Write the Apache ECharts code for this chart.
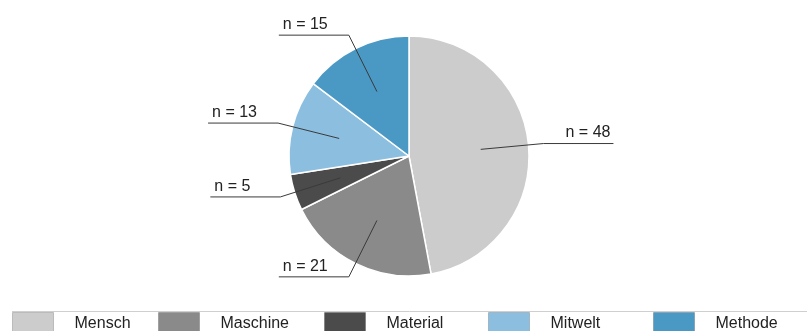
<!DOCTYPE html>
<html>
<head>
<meta charset="utf-8">
<script src="https://cdn.jsdelivr.net/npm/echarts@6/dist/echarts.min.js"></script>
<style>
html, body { margin: 0; padding: 0; background: #fff; }
#chart { width: 807px; height: 331px; }
</style>
</head>
<body>
<div id="chart"></div>
<script>
const categories = ['Mensch', 'Maschine', 'Material', 'Mitwelt', 'Methode'];
const counts = [48, 21, 5, 13, 15];
const sliceColors = ['#cccccc', '#8a8a8a', '#4b4b4b', '#8cbfdf', '#4a98c4'];

const FONT = '"Liberation Sans", Arial, Helvetica, sans-serif';
const legendLefts = [12, 158, 324, 488, 653];

const data = categories.map((name, i) => ({ name: name, value: counts[i] }));

const chart = echarts.init(document.getElementById('chart'), null, { renderer: 'canvas' });

const legends = categories.map((name, i) => ({
  data: [name],
  left: legendLefts[i],
  top: 312,
  padding: 0,
  icon: 'rect',
  itemWidth: 41,
  itemHeight: 22,
  selectedMode: false,
  itemStyle: { borderColor: 'rgba(0,0,0,0.18)', borderWidth: 1 },
  textStyle: { fontFamily: FONT, fontSize: 16, color: '#222', padding: [0, 0, 0, 16] }
}));

chart.setOption({
  animation: false,
  backgroundColor: '#ffffff',
  color: sliceColors,
  legend: legends,
  graphic: [{
    type: 'line',
    shape: { x1: 12, y1: 311.5, x2: 807, y2: 311.5 },
    style: { stroke: '#cfcfcf', lineWidth: 1 },
    silent: true
  }],
  series: [
    {
      type: 'pie',
      z: 2,
      center: [409, 156],
      radius: 120,
      startAngle: 90,
      clockwise: true,
      data: data,
      label: { show: false },
      labelLine: { show: false },
      itemStyle: { borderColor: '#ffffff', borderWidth: 1.5 },
      emphasis: { disabled: true },
      silent: true
    },
    {
      type: 'pie',
      z: 5,
      center: [409, 156],
      radius: 72,
      startAngle: 90,
      clockwise: true,
      data: data,
      silent: true,
      emphasis: { disabled: true },
      itemStyle: { color: 'rgba(0,0,0,0)', borderWidth: 0 },
      label: {
        show: true,
        formatter: 'n = {c}',
        fontFamily: FONT,
        fontSize: 16,
        color: '#222'
      },
      labelLine: {
        show: true,
        length: 63,
        length2: 70,
        smooth: false,
        lineStyle: { color: '#3a3a3a', width: 1 }
      },
      labelLayout: function (p) {
        const pts = p.labelLinePoints;
        if (!pts || pts.length < 3) return {};
        const left = pts[2][0] < pts[1][0];
        return {
          x: left ? pts[2][0] + 4 : pts[2][0] - 3,
          y: pts[2][1] - 10.5,
          align: left ? 'left' : 'right',
          verticalAlign: 'middle',
          labelLinePoints: pts
        };
      }
    }
  ]
});
</script>
</body>
</html>
